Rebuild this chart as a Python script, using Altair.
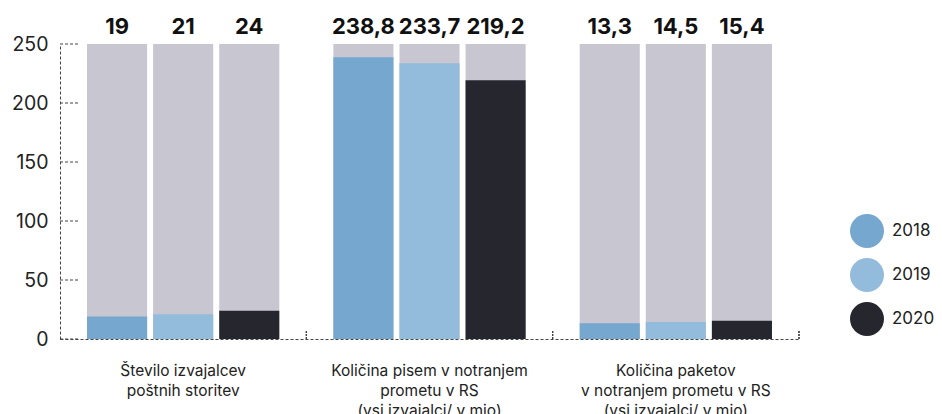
import altair as alt
import pandas as pd

categories = [
    "Število izvajalcev|poštnih storitev",
    "Količina pisem v notranjem|prometu v RS|(vsi izvajalci/ v mio)",
    "Količina paketov|v notranjem prometu v RS|(vsi izvajalci/ v mio)",
]
years = ["2018", "2019", "2020"]
values = [
    [19, 21, 24],
    [238.8, 233.7, 219.2],
    [13.3, 14.5, 15.4],
]
labels = [
    ["19", "21", "24"],
    ["238,8", "233,7", "219,2"],
    ["13,3", "14,5", "15,4"],
]
y_ticks = [0, 50, 100, 150, 200, 250]
y_max = 250
colors = ["#75A7CF", "#93BBDC", "#25262E"]
grey = "#C8C7D1"

rows = []
for ci, cat in enumerate(categories):
    for yi, yr in enumerate(years):
        rows.append({"cat": cat, "year": yr, "value": values[ci][yi], "label": labels[ci][yi], "order": ci})
df = pd.DataFrame(rows)
ticks_df = pd.DataFrame({"t": y_ticks})

FONT = "Inter"
x_enc = alt.X(
    "cat:N",
    sort=categories,
    scale=alt.Scale(paddingInner=0, paddingOuter=0),
    axis=alt.Axis(
        title=None,
        labelAngle=0,
        labelExpr="split(datum.value, '|')",
        labelFontSize=15.5,
        labelLineHeight=20,
        labelPadding=24,
        labelLimit=0,
        labelColor="#222222",
        labelFont=FONT,
        ticks=False,
        tickSize=0,
        domainDash=[3, 2],
        domainColor="#444444",
        domainWidth=1,
    ),
)
xoff = alt.XOffset("year:N", scale=alt.Scale(paddingInner=0.0909, paddingOuter=0.409))
y_scale = alt.Scale(domain=[0, y_max], nice=False)
y_axis = alt.Axis(
    title=None,
    values=y_ticks,
    grid=False,
    ticks=False,
    tickSize=0,
    labelPadding=12,
    labelFontSize=19.5,
    labelColor="#222222",
    labelFont=FONT,
    domainDash=[3, 2],
    domainColor="#444444",
)

base = alt.Chart(df)

bg = base.mark_bar(color=grey).encode(
    x=x_enc, xOffset=xoff,
    y=alt.Y("value:Q", scale=y_scale, axis=y_axis),
).transform_calculate(value=str(y_max))

bars = base.mark_bar().encode(
    x=x_enc, xOffset=xoff,
    y=alt.Y("value:Q", scale=y_scale, axis=y_axis),
    color=alt.Color(
        "year:N",
        scale=alt.Scale(domain=years, range=colors),
        legend=alt.Legend(
            title=None,
            orient="none",
            legendX=790,
            legendY=170,
            symbolType="circle",
            symbolSize=1156,
            symbolStrokeWidth=0,
            rowPadding=10,
            labelOffset=8,
            labelFontSize=17,
            labelColor="#222222",
            labelFont=FONT,
            padding=0,
        ),
    ),
)

text = base.mark_text(
    fontSize=22, fontWeight="bold", font=FONT, color="#111111", baseline="alphabetic"
).encode(
    x=x_enc, xOffset=xoff,
    y=alt.value(-10),
    text="label:N",
)

ytick_rules = alt.Chart(ticks_df).mark_rule(strokeDash=[3, 2], color="#444444", strokeWidth=1).encode(
    y=alt.Y("t:Q", scale=y_scale, axis=y_axis),
    x=alt.value(0),
    x2=alt.value(18),
)

group_ticks = base.mark_rule(strokeDash=[2, 1], color="#444444", strokeWidth=1).encode(
    x=alt.X("cat:N", sort=categories, bandPosition=1, scale=alt.Scale(paddingInner=0, paddingOuter=0)),
    y=alt.value(295),
    y2=alt.value(287),
)

chart = alt.layer(bg, bars, text, ytick_rules, group_ticks).properties(
    width=739,
    height=295,
    autosize=alt.AutoSizeParams(type="none"),
    padding={"left": 52, "top": 36, "right": 135, "bottom": 75},
).configure_view(stroke=None).configure_axis(labelFont=FONT)

chart.save("out.html", embed_options={"renderer": "svg", "actions": False})
